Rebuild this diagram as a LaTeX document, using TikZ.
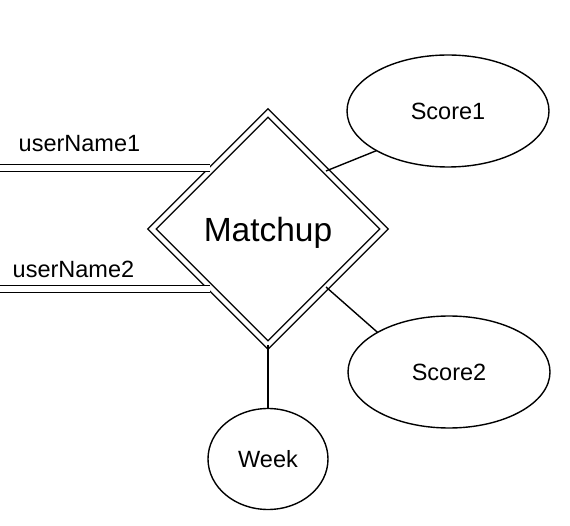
\documentclass[tikz,border=0pt]{standalone}
\usepackage{fontspec}
\setmainfont{Liberation Sans}
\usetikzlibrary{shapes.geometric}
\begin{document}
\begin{tikzpicture}[x=1pt, y=-1pt, line width=1.4pt,
    attr/.style={ellipse, draw, inner sep=0pt, outer sep=0pt, text depth=0pt,
        font=\fontsize{23.5}{28}\selectfont},
    rel/.style={diamond, draw, double, double distance=4.3pt, inner sep=0pt, outer sep=0pt,
        minimum width=232pt, minimum height=232pt, text depth=0pt,
        font=\fontsize{33.5}{40}\selectfont},
    lbl/.style={inner sep=0pt, anchor=base west, font=\fontsize{23.5}{28}\selectfont},
    total/.style={double, double distance=6pt}]
    \useasboundingbox (0,0) rectangle (570,526);

    \node[rel] (matchup) at (268,229) {Matchup};

    % attributes
    \foreach \n/\pos/\w/\h/\txt in {score1/{(448,111)}/202/112/Score1,
                                  score2/{(449,372)}/202/112/Score2,
                                  week/{(268,459)}/120/101/Week}
        \node[attr, minimum width=\w pt, minimum height=\h pt] (\n) at \pos {\txt};

    \draw (matchup.north east) -- (score1.south west);
    \draw (matchup.south east) -- (score2.north west);
    \draw (matchup.south) -- (week.north);

    % total participation
    \coordinate (u1) at (0,168);
    \coordinate (u2) at (0,289);
    \draw[total] (u1) -- (u1 -| matchup.north west);
    \draw[total] (u2) -- (u2 -| matchup.south west);
    \node[lbl] (name1) at (18,152) {userName1};
    \node[lbl] (name2) at (12,278) {userName2};
\end{tikzpicture}
\end{document}
